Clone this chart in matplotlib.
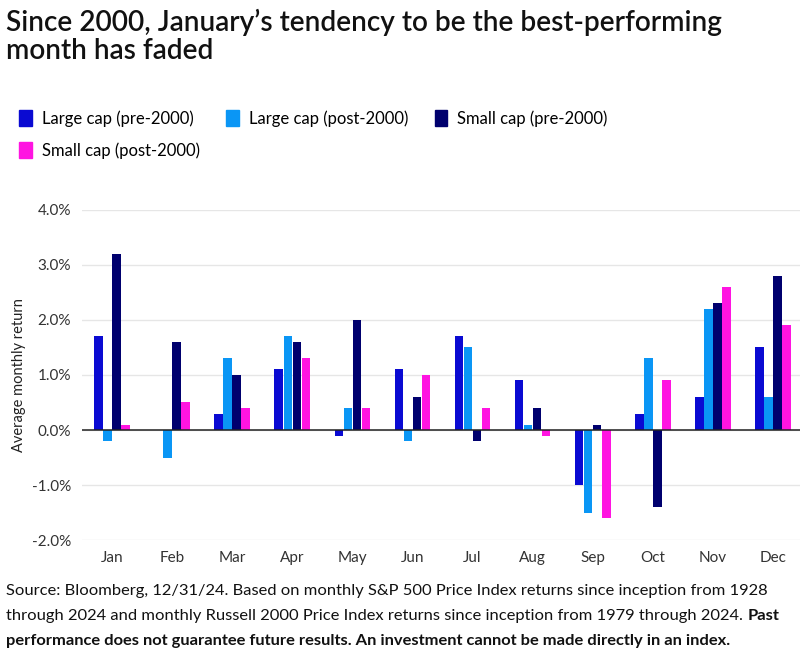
import matplotlib
matplotlib.use("Agg")
import matplotlib.pyplot as plt
from matplotlib.patches import Patch
import numpy as np

months = ["Jan", "Feb", "Mar", "Apr", "May", "Jun", "Jul", "Aug", "Sep", "Oct", "Nov", "Dec"]
large_pre = [1.7, 0.0, 0.3, 1.1, -0.1, 1.1, 1.7, 0.9, -1.0, 0.3, 0.6, 1.5]
large_post = [-0.2, -0.5, 1.3, 1.7, 0.4, -0.2, 1.5, 0.1, -1.5, 1.3, 2.2, 0.6]
small_pre = [3.2, 1.6, 1.0, 1.6, 2.0, 0.6, -0.2, 0.4, 0.1, -1.4, 2.3, 2.8]
small_post = [0.1, 0.5, 0.4, 1.3, 0.4, 1.0, 0.4, -0.1, -1.6, 0.9, 2.6, 1.9]
series_names = ["Large cap (pre-2000)", "Large cap (post-2000)", "Small cap (pre-2000)", "Small cap (post-2000)"]
colors = ["#0a0ad2", "#0a96f5", "#00006e", "#ff14e1"]
yticks = [-2.0, -1.0, 0.0, 1.0, 2.0, 3.0, 4.0]

plt.rcParams['font.family'] = ['Lato', 'DejaVu Sans']

fig = plt.figure(figsize=(8, 6.58), dpi=100)
ax = fig.add_axes([0.1025, 0.1793, 0.8975, 0.5016])

x = np.arange(len(months))
w = 0.15
for i, vals in enumerate([large_pre, large_post, small_pre, small_post]):
    ax.bar(x + (i - 1.5) * w, vals, width=w * 0.95, color=colors[i], zorder=3)

ax.axhline(0, color="#222222", lw=1.1, zorder=4)
ax.set_ylim(-2.0, 4.0)
ax.set_xlim(-0.5, 11.45)
ax.set_yticks(yticks)
ax.set_yticklabels(["%.1f%%" % v for v in yticks], fontsize=11, color="#333333")
ax.set_xticks(x)
ax.set_xticklabels(months, fontsize=11, color="#333333")
ax.tick_params(length=0, pad=8)
ax.grid(axis="y", color="#e6e6e6", lw=1, zorder=0)
for s in ax.spines.values():
    s.set_visible(False)
ax.set_ylabel("Average monthly return", fontsize=10.5, color="#222222", labelpad=4)

# title
fig.text(0.008, 0.987, "Since 2000, January\u2019s tendency to be the best-performing\nmonth has faded",
         fontsize=20.2, fontweight="semibold", va="top", ha="left", color="#111111", linespacing=1.12)

# legend (row-major order for 3 columns)
order = [0, 3, 1, 2]
handles = [Patch(facecolor=colors[k], edgecolor=colors[k]) for k in order]
labels = [series_names[k] for k in order]
fig.legend(handles, labels, loc="upper left", bbox_to_anchor=(0.005, 0.855), ncol=3,
           frameon=False, fontsize=12, handlelength=0.75, handleheight=1.1,
           handletextpad=0.6, columnspacing=1.6, labelspacing=0.9)

# footnote
fs = 11.85
fig.text(0.008, 0.0957, "Source: Bloomberg, 12/31/24. Based on monthly S&P 500 Price Index returns since inception from 1928",
         fontsize=fs, color="#111111", va="baseline")
t2 = fig.text(0.008, 0.0578, "through 2024 and monthly Russell 2000 Price Index returns since inception from 1979 through 2024. ",
              fontsize=fs, color="#111111", va="baseline")
fig.text(0.008, 0.0205, "performance does not guarantee future results. An investment cannot be made directly in an index.",
         fontsize=fs, color="#111111", va="baseline", fontweight="bold")
fig.canvas.draw()
bb = t2.get_window_extent(renderer=fig.canvas.get_renderer())
fig.text(bb.x1 / fig.bbox.width, 0.0578, "Past", fontsize=fs, color="#111111", va="baseline", fontweight="bold")

fig.savefig("out.png", dpi=100, facecolor="white")
